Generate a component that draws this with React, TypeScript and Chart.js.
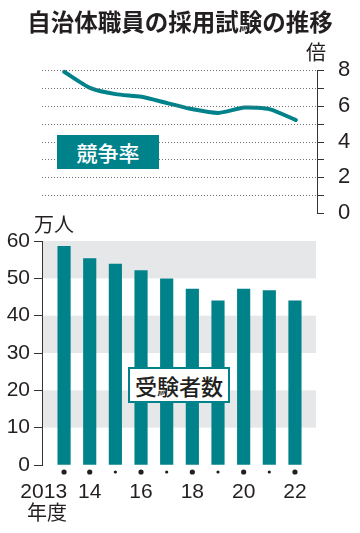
import React, { useEffect, useRef } from 'react';
import { Chart, registerables } from 'chart.js';

Chart.register(...registerables);

const title = '自治体職員の採用試験の推移';
const years = [2013, 2014, 2015, 2016, 2017, 2018, 2019, 2020, 2021, 2022];
const xTickLabels = ['2013', '14', '', '16', '', '18', '', '20', '', '22'];
const yearUnit = '年度';
const competitionRate = [7.9, 7.0, 6.65, 6.5, 6.15, 5.8, 5.6, 5.9, 5.8, 5.2];
const examinees = [58.6, 55.3, 53.8, 52.1, 49.9, 47.1, 44.0, 47.1, 46.7, 44.0];
const rateTicks = [0, 2, 4, 6, 8];
const rateGrid = [0, 1, 2, 3, 4, 5, 6, 7, 8];
const countTicks = [0, 10, 20, 30, 40, 50, 60];
const bandRanges = [[10, 20], [30, 40], [50, 60]];
const rateUnit = '倍';
const countUnit = '万人';
const rateLabel = '競争率';
const countLabel = '受験者数';

const TEAL = '#00828b';
const INK = '#231f20';
const NUM_FONT = "'Liberation Sans', Arial, sans-serif";
const JP_FONT = "'Noto Sans CJK JP', 'Noto Sans', sans-serif";
const X_MIN = 2012.14;
const X_MAX = 2022.82;

export default function App() {
  const topRef = useRef<HTMLCanvasElement>(null);
  const botRef = useRef<HTMLCanvasElement>(null);

  useEffect(() => {
    const rateGridPlugin = {
      id: 'rateGrid',
      afterDraw(chart: any) {
        const { ctx, chartArea, scales } = chart;
        ctx.save();
        const right = Math.round(chartArea.right);
        rateGrid.forEach((v) => {
          const y = Math.round(scales.y.getPixelForValue(v));
          if (v > 0) {
            ctx.fillStyle = '#707070';
            for (let x = Math.round(chartArea.left); x < right - 1; x += 3) {
              ctx.fillRect(x, y, 1, 1);
            }
          }
          ctx.fillStyle = '#333';
          ctx.fillRect(right, y, 7, 1);
        });
        ctx.restore();
      },
    };

    const topChart = new Chart(topRef.current!, {
      type: 'line',
      data: {
        datasets: [
          {
            data: years.map((y, i) => ({ x: y, y: competitionRate[i] })),
            borderColor: TEAL,
            borderWidth: 4,
            pointRadius: 0,
            tension: 0.2,
            clip: false as any,
            borderCapStyle: 'round',
            borderJoinStyle: 'round',
          },
        ],
      },
      options: {
        responsive: false,
        animation: false,
        events: [],
        layout: { padding: { top: 70, left: 42, right: 0, bottom: 320 } },
        plugins: { legend: { display: false }, tooltip: { enabled: false } },
        scales: {
          x: { type: 'linear', min: X_MIN, max: X_MAX, display: false, offset: false },
          y: {
            position: 'right',
            min: 0,
            max: 8,
            afterFit: (s: any) => {
              s.width = 43;
            },
            afterBuildTicks: (s: any) => {
              s.ticks = rateTicks.map((v) => ({ value: v }));
            },
            ticks: {
              padding: 13,
              color: INK,
              font: { family: NUM_FONT, size: 22 },
              callback: (v: any) => String(v),
            },
            grid: { display: false },
            border: { display: true, color: '#333', width: 1 },
          },
        },
      },
      plugins: [rateGridPlugin],
    });

    const bandsPlugin = {
      id: 'bands',
      beforeDatasetsDraw(chart: any) {
        const { ctx, chartArea, scales } = chart;
        ctx.save();
        ctx.fillStyle = '#e6e7e8';
        bandRanges.forEach(([lo, hi]) => {
          const y1 = scales.y.getPixelForValue(hi);
          const y2 = scales.y.getPixelForValue(lo);
          ctx.fillRect(chartArea.left + 1, y1, chartArea.right - chartArea.left - 1, y2 - y1);
        });
        ctx.restore();
      },
    };

    const dotsPlugin = {
      id: 'dots',
      afterDraw(chart: any) {
        const { ctx, chartArea, scales } = chart;
        ctx.save();
        ctx.fillStyle = INK;
        years.forEach((yr, i) => {
          const x = scales.x.getPixelForValue(yr);
          const r = xTickLabels[i] ? 2.6 : 1.6;
          ctx.beginPath();
          ctx.arc(x, chartArea.bottom + 7, r, 0, Math.PI * 2);
          ctx.fill();
        });
        const x0 = scales.x.getPixelForValue(years[0]) + 3;
        ctx.textAlign = 'right';
        ctx.textBaseline = 'middle';
        ctx.font = `21px ${NUM_FONT}`;
        ctx.fillText(xTickLabels[0], x0, chartArea.bottom + 27);
        ctx.font = `20px ${JP_FONT}`;
        ctx.fillText(yearUnit, x0, chartArea.bottom + 47);
        ctx.restore();
      },
    };

    const botChart = new Chart(botRef.current!, {
      type: 'bar',
      data: {
        datasets: [
          {
            data: years.map((y, i) => ({ x: y, y: examinees[i] })),
            backgroundColor: TEAL,
            barThickness: 12.5,
          },
        ],
      },
      options: {
        responsive: false,
        animation: false,
        events: [],
        layout: { padding: { top: 241, left: 0, right: 44, bottom: 0 } },
        plugins: { legend: { display: false }, tooltip: { enabled: false } },
        scales: {
          x: {
            type: 'linear',
            min: X_MIN,
            max: X_MAX,
            offset: false,
            afterFit: (s: any) => {
              s.height = 68;
            },
            grid: { display: false, offset: false },
            border: { display: false },
            ticks: {
              stepSize: 1,
              autoSkip: false,
              maxRotation: 0,
              includeBounds: false,
              padding: 7,
              color: INK,
              font: { family: NUM_FONT, size: 21 },
              callback: (v: any) => {
                const i = years.indexOf(Number(v));
                return i > 0 ? xTickLabels[i] : '';
              },
            },
          },
          y: {
            min: 0,
            max: 60,
            afterFit: (s: any) => {
              s.width = 42;
            },
            ticks: {
              stepSize: 10,
              padding: 4,
              color: INK,
              font: { family: NUM_FONT, size: 21 },
              callback: (v: any) => (countTicks.includes(Number(v)) ? String(v) : ''),
            },
            grid: { drawOnChartArea: false, tickLength: 8, tickColor: '#333' },
            border: { display: true, color: '#333', width: 1 },
          },
        },
      },
      plugins: [bandsPlugin, dotsPlugin],
    });

    return () => {
      topChart.destroy();
      botChart.destroy();
    };
  }, []);

  const abs: React.CSSProperties = { position: 'absolute', display: 'block' };

  return (
    <div style={{ position: 'absolute', left: 0, top: 0, width: 360, height: 533, background: '#fff', overflow: 'hidden' }}>
      <canvas ref={botRef} width={360} height={533} style={{ ...abs, left: 0, top: 0 }} />
      <canvas ref={topRef} width={360} height={533} style={{ ...abs, left: 0, top: 0 }} />
      <div
        style={{
          ...abs,
          left: 0,
          top: 8,
          width: 360,
          textAlign: 'center',
          fontFamily: JP_FONT,
          fontWeight: 700,
          fontSize: 23.5,
          lineHeight: '26px',
          color: INK,
          whiteSpace: 'nowrap',
        }}
      >
        {title}
      </div>
      <div style={{ ...abs, left: 306, top: 41, fontFamily: JP_FONT, fontSize: 20, lineHeight: '22px', color: INK }}>
        {rateUnit}
      </div>
      <div style={{ ...abs, left: 34, top: 213, fontFamily: JP_FONT, fontSize: 20, lineHeight: '22px', color: INK }}>
        {countUnit}
      </div>
      <div
        style={{
          ...abs,
          left: 57,
          top: 135,
          width: 102,
          height: 34,
          background: TEAL,
          color: '#fff',
          fontFamily: JP_FONT,
          fontWeight: 500,
          fontSize: 21,
          lineHeight: '34px',
          textAlign: 'center',
        }}
      >
        {rateLabel}
      </div>
      <div
        style={{
          ...abs,
          left: 128,
          top: 367,
          width: 98,
          height: 32,
          background: '#fff',
          border: `2px solid ${TEAL}`,
          color: INK,
          fontFamily: JP_FONT,
          fontWeight: 500,
          fontSize: 22,
          lineHeight: '32px',
          textAlign: 'center',
        }}
      >
        {countLabel}
      </div>
    </div>
  );
}
